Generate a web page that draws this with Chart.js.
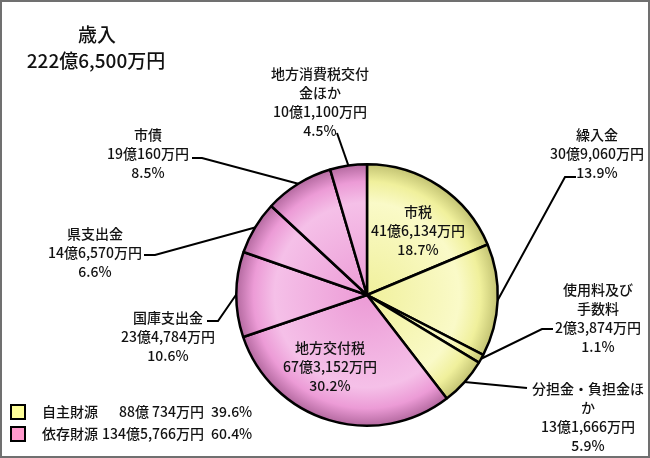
<!DOCTYPE html>
<html>
<head>
<meta charset="utf-8">
<script src="https://cdn.jsdelivr.net/npm/chart.js@4.4.1/dist/chart.umd.min.js"></script>
<style>
  body { margin: 0; background: #fff; }
  #wrap { position: relative; width: 650px; height: 458px; }
  #frame { position: absolute; left: 0; top: 0; width: 650px; height: 458px; box-sizing: border-box; border: 2px solid #707070; pointer-events: none; }
</style>
</head>
<body>
<div id="wrap">
  <canvas id="myCanvas"></canvas>
  <div id="frame"></div>
</div>
<script>
// 歳入の内訳 (万円)
const categories = ["市税", "繰入金", "使用料及び手数料", "分担金・負担金ほか", "地方交付税", "国庫支出金", "県支出金", "市債", "地方消費税交付金ほか"];
const nameLines = [["市税"], ["繰入金"], ["使用料及び", "手数料"], ["分担金・負担金ほ", "か"], ["地方交付税"], ["国庫支出金"], ["県支出金"], ["市債"], ["地方消費税交付", "金ほか"]];
const amounts = [416134, 309060, 23874, 131666, 673152, 234784, 146570, 190160, 101100];
const amountLabels = ["41億6,134万円", "30億9,060万円", "2億3,874万円", "13億1,666万円", "67億3,152万円", "23億4,784万円", "14億6,570万円", "19億160万円", "10億1,100万円"];
const percents = [18.7, 13.9, 1.1, 5.9, 30.2, 10.6, 6.6, 8.5, 4.5];
const groupOf = [0, 0, 0, 0, 1, 1, 1, 1, 1];

const groupNames = ["自主財源", "依存財源"];
const groupAmounts = ["88億 734万円", "134億5,766万円"];
const groupPercents = [39.6, 60.4];

const titleLines = ["歳入", "222億6,500万円"];

// 見た目
const FONT = '"Noto Sans CJK JP", "Noto Sans", sans-serif';
const sliceColors = [
  { mid: "#f0f09c", light: "#fafac8", dark: "#c0c070" },
  { mid: "#ec9bd6", light: "#f5c0e8", dark: "#b0669c" }
];
const legendColors = ["#ffff99", "#ff99cc"];

// ラベル位置 (文字の中心x, 1行目y, 引出線の折れ点, 終点)
const labelLayout = [
  { x: 418, y: 212 },
  { x: 597, y: 135, elbow: [565, 177], end: [576, 177] },
  { x: 598, y: 290, elbow: [542, 329], end: [553, 329] },
  { x: 588, y: 389, elbow: [527, 388] },
  { x: 330, y: 348 },
  { x: 168, y: 318, elbow: [218, 321], end: [207, 321] },
  { x: 95, y: 234, elbow: [155, 255], end: [144, 255] },
  { x: 148, y: 135, elbow: [202, 158], end: [192, 158] },
  { x: 320, y: 74, elbow: [337, 133] }
];

const labelPlugin = {
  id: "pieLabels",
  afterDatasetsDraw(chart) {
    const ctx = chart.ctx;
    const arcs = chart.getDatasetMeta(0).data;
    ctx.save();
    ctx.textAlign = "center";
    ctx.textBaseline = "middle";
    ctx.fillStyle = "#111";
    ctx.strokeStyle = "#000";
    ctx.lineWidth = 2;

    arcs.forEach((arc, i) => {
      const lay = labelLayout[i];
      ctx.font = "500 14px " + FONT;
      const lines = nameLines[i].concat([amountLabels[i], percents[i].toFixed(1) + "%"]);
      lines.forEach((t, k) => ctx.fillText(t, lay.x, lay.y + k * 19));

      if (lay.elbow) {
        const a = (arc.startAngle + arc.endAngle) / 2;
        ctx.beginPath();
        ctx.moveTo(arc.x + Math.cos(a) * arc.outerRadius, arc.y + Math.sin(a) * arc.outerRadius);
        ctx.lineTo(lay.elbow[0], lay.elbow[1]);
        if (lay.end) ctx.lineTo(lay.end[0], lay.end[1]);
        ctx.stroke();
      }
    });

    // タイトル
    ctx.font = "500 19px " + FONT;
    ctx.fillText(titleLines[0], 97, 35);
    ctx.fillText(titleLines[1], 96, 61);

    // 凡例
    ctx.font = "500 14px " + FONT;
    groupNames.forEach((g, k) => {
      const y = 412 + k * 22;
      ctx.fillStyle = legendColors[k];
      ctx.fillRect(11, y - 7, 14, 14);
      ctx.strokeRect(11, y - 7, 14, 14);
      ctx.fillStyle = "#111";
      ctx.textAlign = "left";
      ctx.fillText(g, 42, y);
      ctx.textAlign = "right";
      ctx.fillText(groupAmounts[k], 204, y);
      ctx.textAlign = "left";
      ctx.fillText(groupPercents[k].toFixed(1) + "%", 211, y);
    });
    ctx.restore();
  }
};

function sliceFill(c) {
  const chart = c.chart;
  const area = chart.chartArea;
  const col = sliceColors[groupOf[c.dataIndex]];
  if (!area) return col.mid;
  const cx = (area.left + area.right) / 2;
  const cy = (area.top + area.bottom) / 2;
  const r = Math.min(area.width, area.height) / 2;
  const g = chart.ctx.createRadialGradient(cx, cy, 0, cx, cy, r);
  g.addColorStop(0, col.mid);
  g.addColorStop(0.7, col.light);
  g.addColorStop(0.86, col.mid);
  g.addColorStop(1, col.dark);
  return g;
}

new Chart(document.getElementById("myCanvas"), {
  type: "pie",
  data: {
    labels: categories,
    datasets: [{
      data: amounts,
      backgroundColor: sliceFill,
      borderColor: "#000",
      borderWidth: 2.5
    }]
  },
  options: {
    responsive: true,
    maintainAspectRatio: false,
    animation: false,
    events: [],
    layout: { padding: { left: 235, right: 151, top: 163, bottom: 31 } },
    plugins: { legend: { display: false }, tooltip: { enabled: false } }
  },
  plugins: [labelPlugin]
});
</script>
</body>
</html>
